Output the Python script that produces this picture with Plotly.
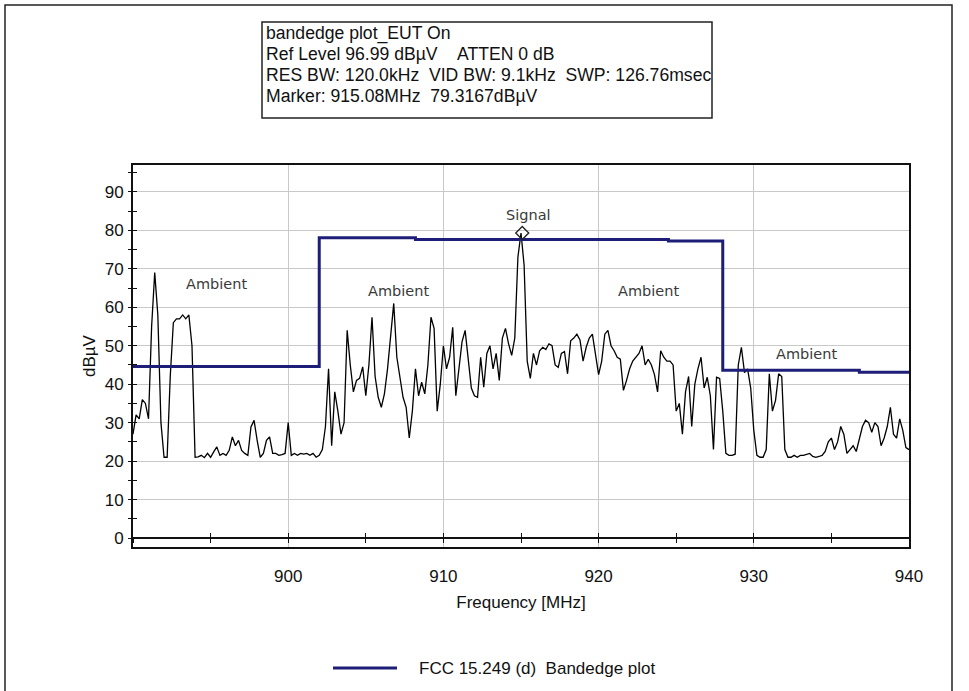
import numpy as np
import plotly.graph_objects as go

# ---------------- data ----------------
FREQ_START_MHZ = 890.0
FREQ_STEP_MHZ = 0.2

LEVEL_890_900 = [27, 32, 31, 36, 35, 31, 55, 69, 58, 30,
                 21, 21, 42, 56, 57, 57, 58, 57, 58, 50,
                 21, 21.1, 21.5, 20.9, 22, 21, 22.4, 23.7, 21.5, 22,
                 21.5, 22.8, 26.3, 24, 25.4, 22.8, 22, 21.5, 28.9, 30.6,
                 25.4, 21, 22, 25.4, 26.3, 22, 22, 21.5, 21.7, 22]
LEVEL_900_910 = [30, 21.5, 22, 21.5, 22, 21.8, 22, 21.5, 22, 21,
                 21.5, 23, 29, 44, 24, 38, 33, 27, 30, 54,
                 45, 38, 41, 41.5, 44.5, 37, 45, 57.4, 42, 36.6,
                 34, 37.5, 44, 52, 61, 47, 42, 36.6, 34, 26,
                 33, 44, 37, 40.5, 37.5, 45, 57.4, 54.5, 33, 40]
LEVEL_910_920 = [50, 44, 47, 54.8, 37, 44, 51, 54, 46, 39,
                 37, 36.6, 47, 39.2, 48, 50, 44, 48, 41, 52,
                 54.5, 50.5, 47.5, 52, 73, 79.3, 71, 46, 41.5, 48,
                 45, 48.7, 49.6, 49, 50.5, 50, 45, 44.4, 48, 48.5,
                 42.7, 51.3, 52, 53, 51.5, 46, 49.6, 52, 53, 48]
LEVEL_920_930 = [42.5, 46, 53, 54, 50, 48.7, 47, 46.5, 38.4, 41,
                 44, 46, 47, 48, 50, 45, 46.5, 45, 42.5, 38,
                 48.7, 47, 46, 46, 45, 33, 35, 27, 38, 42,
                 29, 40, 44, 47, 39, 41.8, 37, 23, 41.8, 41.5,
                 33, 22, 21.5, 21.5, 21.8, 45, 49.6, 43, 44, 39]
LEVEL_930_940 = [28, 21.5, 21, 21, 23, 42.7, 33, 35.8, 42.7, 42,
                 23, 21, 21, 21.5, 21, 21.5, 21.5, 21.8, 22, 21.2,
                 21, 21.2, 21.5, 22.5, 25, 26, 23, 25, 29, 27,
                 22, 23, 24, 22.5, 26, 29, 30.6, 30, 27.5, 30,
                 29, 24, 26, 29, 34, 27, 26, 31, 28, 23.5,
                 23]

LIMIT_FREQ = [890, 902, 908.2, 924.5, 928, 936.8, 940]
LIMIT_LEVEL = [44.6, 78.1, 77.6, 77.2, 43.6, 43.1, 43.1]

MARKER_FREQ = 915.08
MARKER_LEVEL = 79.3167

LABEL_TEXT = ["Ambient", "Ambient", "Ambient", "Ambient", "Signal"]
LABEL_FREQ = [895.4, 907.1, 923.2, 933.4, 915.5]
LABEL_LEVEL = [66.0, 64.3, 64.3, 47.9, 84.0]

X_RANGE = [890, 940]
Y_RANGE = [-2.33, 96.99]
X_TICKS = [900, 910, 920, 930, 940]
Y_TICKS = [0, 10, 20, 30, 40, 50, 60, 70, 80, 90]

INFO_LINES = ["bandedge plot_EUT On",
              "Ref Level 96.99 dBµV    ATTEN 0 dB",
              "RES BW: 120.0kHz  VID BW: 9.1kHz  SWP: 126.76msec",
              "Marker: 915.08MHz  79.3167dBµV"]
LEGEND_TEXT = "FCC 15.249 (d)  Bandedge plot"

# ---------------- figure ----------------
levels = LEVEL_890_900 + LEVEL_900_910 + LEVEL_910_920 + LEVEL_920_930 + LEVEL_930_940
freq = FREQ_START_MHZ + FREQ_STEP_MHZ * np.arange(len(levels))

NAVY = "#1e1e78"
FONT = "Liberation Sans, Arial, sans-serif"
W, H = 969, 691
L, R, T, B = 133, 60, 165, 144
PW, PH = W - L - R, H - T - B


def px(x):
    return (x - L) / PW


def py(y):
    return (H - B - y) / PH


def keep_spaces(s):
    return s.replace("  ", "\u00a0\u00a0")


fig = go.Figure()
fig.add_trace(go.Scatter(x=freq, y=levels, mode="lines",
                         line=dict(color="black", width=1.3),
                         name="bandedge plot_EUT On", showlegend=False))
fig.add_trace(go.Scatter(x=LIMIT_FREQ, y=LIMIT_LEVEL, mode="lines",
                         line=dict(color=NAVY, width=3, shape="hv"),
                         name=LEGEND_TEXT, showlegend=False))
fig.add_trace(go.Scatter(x=[MARKER_FREQ], y=[MARKER_LEVEL], mode="markers",
                         marker=dict(symbol="diamond-open", size=10, color="#222",
                                     line=dict(width=1.3)),
                         name="Marker", showlegend=False))
# helper (empty) traces so the tick-only overlay axes are drawn
fig.add_trace(go.Scatter(x=[None], y=[None], xaxis="x2", yaxis="y2",
                         showlegend=False, hoverinfo="skip"))
fig.add_trace(go.Scatter(x=[None], y=[None], xaxis="x3", yaxis="y3",
                         showlegend=False, hoverinfo="skip"))

zero_pos = (0 - Y_RANGE[0]) / (Y_RANGE[1] - Y_RANGE[0])

tick_axis_x = dict(range=X_RANGE, overlaying="x", anchor="free", position=zero_pos,
                   showline=True, linecolor="#111", linewidth=1.5,
                   tickmode="linear", tick0=890, dtick=5, ticklen=4, tickwidth=1.3,
                   tickcolor="#111", showticklabels=False, showgrid=False, zeroline=False)
tick_axis_y = dict(range=Y_RANGE, overlaying="y", anchor="x", side="left",
                   showline=False, tickmode="linear", tick0=0, dtick=5, ticklen=4,
                   tickwidth=1.3, tickcolor="#111", showticklabels=False,
                   showgrid=False, zeroline=False)

annotations = []
for t, xv, yv in zip(LABEL_TEXT, LABEL_FREQ, LABEL_LEVEL):
    annotations.append(dict(x=xv, y=yv, xref="x", yref="y", text=t, showarrow=False,
                            font=dict(family="DejaVu Sans, Verdana, sans-serif",
                                      size=14.5, color="#3a3a3a")))

for i, line in enumerate(INFO_LINES):
    annotations.append(dict(x=px(264), y=py(33 + 21 * i), xref="paper", yref="paper",
                            xanchor="left", yanchor="middle", align="left",
                            text=keep_spaces(line), showarrow=False,
                            font=dict(family=FONT, size=17.6, color="#111")))
annotations.append(dict(x=px(417), y=py(668), xref="paper", yref="paper",
                        xanchor="left", yanchor="middle",
                        text=keep_spaces(LEGEND_TEXT), showarrow=False,
                        font=dict(family=FONT, size=17, color="#111")))

shapes = [
    # outer frame
    dict(type="rect", xref="paper", yref="paper", x0=px(5), x1=px(952), y0=py(720), y1=py(5),
         line=dict(color="#222", width=1.5), layer="below"),
    # info box
    dict(type="rect", xref="paper", yref="paper", x0=px(262), x1=px(712), y0=py(118), y1=py(22),
         line=dict(color="#222", width=1.5)),
    # legend swatch
    dict(type="line", xref="paper", yref="paper", x0=px(333), x1=px(397), y0=py(668), y1=py(668),
         line=dict(color=NAVY, width=3)),
]

fig.update_layout(
    width=W, height=H,
    margin=dict(l=L, r=R, t=T, b=B, autoexpand=False),
    paper_bgcolor="white", plot_bgcolor="white",
    showlegend=False,
    font=dict(family=FONT, size=16.5, color="#111"),
    xaxis=dict(range=X_RANGE, tickvals=X_TICKS, showgrid=True, gridcolor="#c9c9c9",
               gridwidth=1, showline=True, mirror=True, linecolor="#111", linewidth=2,
               ticks="", ticklabelstandoff=13, zeroline=False,
               tickfont=dict(family=FONT, size=17, color="#111"),
               title=dict(text="Frequency [MHz]", standoff=11,
                          font=dict(family=FONT, size=17, color="#111")),
               automargin=False),
    yaxis=dict(range=Y_RANGE, tickvals=Y_TICKS, showgrid=True, gridcolor="#c9c9c9",
               gridwidth=1, showline=True, mirror=True, linecolor="#111", linewidth=2,
               ticks="", ticklabelstandoff=4, zeroline=False,
               tickfont=dict(family=FONT, size=17, color="#111"),
               title=dict(text="dBµV", standoff=5,
                          font=dict(family=FONT, size=17, color="#111")),
               automargin=False),
    xaxis2=dict(tick_axis_x, ticks="outside"),
    xaxis3=dict(tick_axis_x, ticks="inside"),
    yaxis2=dict(tick_axis_y, ticks="outside"),
    yaxis3=dict(tick_axis_y, ticks="inside"),
    annotations=annotations,
    shapes=shapes,
)

fig.write_html("out.html")
